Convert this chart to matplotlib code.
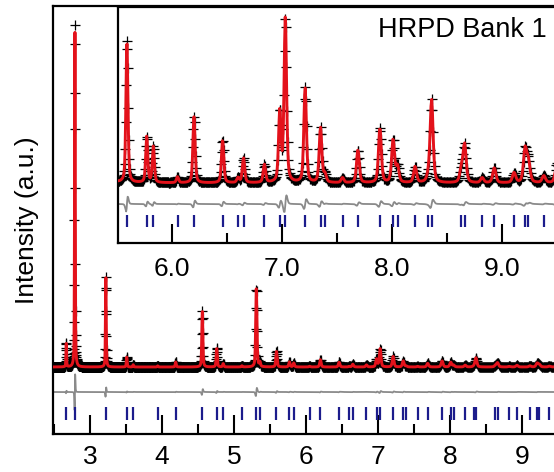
import numpy as np
import matplotlib
matplotlib.use('Agg')
import matplotlib.pyplot as plt
from matplotlib.ticker import MultipleLocator

plt.rcParams['font.family'] = ['Liberation Sans', 'DejaVu Sans']

# reflexoes (d-spacing, Angstrom) e intensidades
pos_reflexoes = [2.67, 2.79, 3.22, 3.51, 3.60, 3.94, 4.19, 4.56, 4.76, 4.85,
                 5.11, 5.31, 5.36, 5.59, 5.77, 5.83, 6.05, 6.20, 6.46, 6.60,
                 6.65, 6.84, 6.98, 7.03, 7.21, 7.35, 7.39, 7.55, 7.69, 7.89,
                 8.01, 8.05, 8.21, 8.33, 8.36, 8.63, 8.66, 8.82, 8.93, 9.11,
                 9.21, 9.24, 9.38, 9.50]
int_reflexoes = [216, 3120, 810, 90, 20, 10, 45, 500, 170, 30,
                 10, 710, 40, 143, 46, 36, 6, 66, 43, 5,
                 25, 18, 70, 164, 95, 55, 8, 5, 33, 55,
                 43, 16, 16, 5, 83, 13, 38, 5, 15, 10,
                 33, 20, 7, 20]
fundo = 100.0

main_ticks = [3, 4, 5, 6, 7, 8, 9]
inset_ticks = [6.0, 7.0, 8.0, 9.0]


def perfil(d, posicoes, alturas, desloc=0.0):
    y = np.full_like(d, fundo)
    for p, h in zip(posicoes, alturas):
        p = p * (1 + desloc)
        fwhm = 0.0038 * p
        x = (d - p) / (fwhm / 2)
        gauss = np.exp(-np.log(2) * x ** 2)
        lor = 1 / (1 + x ** 2)
        y += h * (0.55 * gauss + 0.45 * lor)
    return y


d = 2.45 * 1.0008 ** np.arange(1900)
d = d[d < 10.6]
calc = perfil(d, pos_reflexoes, int_reflexoes)
obs = perfil(d, pos_reflexoes, int_reflexoes, desloc=0.00015)
dif = obs - calc

vermelho = '#e3121b'
azul = '#1c1c8c'
cinza = '#8a8a8a'

fig = plt.figure(figsize=(5.54, 4.72), dpi=100)


def desenha(ax, off_dif, tick_lo, tick_hi):
    ax.plot(d, obs, '+', color='black', ms=7, mew=0.9, zorder=2)
    ax.plot(d, calc, '-', color=vermelho, lw=2.1, zorder=3)
    ax.plot(d, dif + off_dif, '-', color=cinza, lw=1.3, zorder=2)
    ax.vlines(pos_reflexoes, tick_lo, tick_hi, color=azul, lw=1.6, zorder=2)
    ax.set_yticks([])
    for s in ax.spines.values():
        s.set_linewidth(1.6)


# grafico principal
ax = fig.add_axes([53 / 554, 38 / 472, 577 / 554, 428 / 472])
esc = 9.0
desenha(ax, fundo - 25 * esc, fundo - 53 * esc, fundo - 40 * esc)
ax.set_xlim(2.486, 2.486 + 577 / 72)
ax.set_ylim(fundo - 67 * esc, fundo + 361 * esc)
ax.set_xticks(main_ticks)
ax.xaxis.set_minor_locator(MultipleLocator(0.5))
ax.tick_params(axis='x', which='major', direction='in', length=14, width=1.5,
               labelsize=19, pad=8)
ax.tick_params(axis='x', which='minor', direction='in', length=7, width=1.5)
ax.set_ylabel('Intensity (a.u.)', fontsize=19, labelpad=10)

# inset
ins = fig.add_axes([118 / 554, 229 / 472, 494 / 554, 236 / 472])
desenha(ins, fundo - 21, fundo - 44, fundo - 32)
ins.set_xlim(5.509, 5.509 + 494 / 110)
ins.set_ylim(fundo - 60, fundo + 176)
ins.set_xticks(inset_ticks)
ins.set_xticklabels(['%.1f' % t for t in inset_ticks])
ins.xaxis.set_minor_locator(MultipleLocator(0.5))
ins.tick_params(axis='x', which='major', direction='in', length=14, width=1.5,
                labelsize=19, pad=10)
ins.tick_params(axis='x', which='minor', direction='in', length=7, width=1.5)
ins.text(378 / 554, 1 - 30 / 472, 'HRPD Bank 1', transform=fig.transFigure,
         fontsize=19.5, va='center', ha='left')

fig.savefig('out.png', dpi=100)
